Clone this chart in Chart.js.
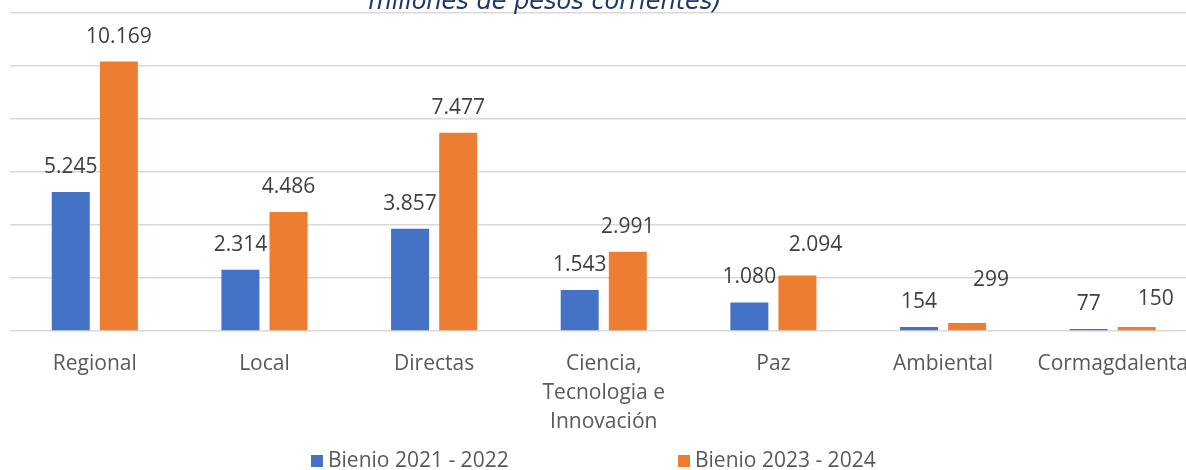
<!DOCTYPE html>
<html>
<head>
<meta charset="utf-8">
<script src="https://cdn.jsdelivr.net/npm/chart.js@4.4.1/dist/chart.umd.min.js"></script>
<style>
  html, body { margin: 0; padding: 0; background: #fff; overflow: hidden; }
  #wrap { width: 1206px; height: 470px; position: relative; }
</style>
</head>
<body>
<div id="wrap"><canvas id="grafico"></canvas></div>
<script>
// Datos
const categorias = ['Regional', 'Local', 'Directas', ['Ciencia,', 'Tecnologia e', 'Innovación'], 'Paz', 'Ambiental', 'Cormagdalenta'];
const bienio2122 = [5245, 2314, 3857, 1543, 1080, 154, 77];
const bienio2324 = [10169, 4486, 7477, 2991, 2094, 299, 150];
const nombresSeries = ['Bienio 2021 - 2022', 'Bienio 2023 - 2024'];
const coloresSeries = ['#4472C4', '#ED7D31'];
const tituloTexto = 'millones de pesos corrientes)';

// ajustes de las etiquetas que Excel movio a mano [dx, dy]
const ajusteEtiquetas = [
    [[0, 0], [0, 0], [0, 0], [0, 0], [0, 0], [0, 0], [0, 0]],
    [[0, 0], [0, 0], [0, 0], [0, 0], [18, -5], [24, -18], [19, -3]]
];

const fuente = '"Open Sans", sans-serif';

function formatoMiles(v) {
    return String(v).replace(/\B(?=(\d{3})+(?!\d))/g, '.');
}

const etiquetasPlugin = {
    id: 'etiquetas',
    afterDatasetsDraw(chart) {
        const ctx = chart.ctx;
        ctx.save();
        ctx.font = '21px ' + fuente;
        ctx.fillStyle = '#404040';
        ctx.textAlign = 'center';
        ctx.textBaseline = 'middle';
        chart.data.datasets.forEach((ds, i) => {
            chart.getDatasetMeta(i).data.forEach((bar, j) => {
                const a = ajusteEtiquetas[i][j];
                ctx.fillText(formatoMiles(ds.data[j]), bar.x + a[0], bar.y - 25 + a[1]);
            });
        });
        ctx.restore();
    }
};

const tituloPlugin = {
    id: 'tituloCortado',
    afterDraw(chart) {
        const ctx = chart.ctx;
        ctx.save();
        ctx.font = 'italic 24px "DejaVu Sans", Verdana, sans-serif';
        ctx.fillStyle = '#1F3864';
        ctx.textAlign = 'center';
        ctx.textBaseline = 'alphabetic';
        ctx.fillText(tituloTexto, 545, 9);
        ctx.restore();
    }
};

const leyendaPlugin = {
    id: 'leyendaAbajo',
    afterDraw(chart) {
        const ctx = chart.ctx;
        const xs = [311, 678];
        ctx.save();
        ctx.font = '21px ' + fuente;
        ctx.textBaseline = 'middle';
        ctx.textAlign = 'left';
        chart.data.datasets.forEach((ds, i) => {
            ctx.fillStyle = ds.backgroundColor;
            ctx.fillRect(xs[i], 455, 12, 12);
            ctx.fillStyle = '#595959';
            ctx.fillText(ds.label, xs[i] + 17, 461);
        });
        ctx.restore();
    }
};

new Chart(document.getElementById('grafico'), {
    type: 'bar',
    data: {
        labels: categorias,
        datasets: [
            { label: nombresSeries[0], data: bienio2122, backgroundColor: coloresSeries[0] },
            { label: nombresSeries[1], data: bienio2324, backgroundColor: coloresSeries[1] }
        ]
    },
    options: {
        responsive: true,
        maintainAspectRatio: false,
        animation: false,
        categoryPercentage: 0.567,
        barPercentage: 0.79,
        layout: { padding: { left: 10, right: 0, top: 13, bottom: 19 } },
        plugins: {
            legend: { display: false },
            title: { display: false },
            tooltip: { enabled: false }
        },
        scales: {
            x: {
                grid: { display: false, drawTicks: false },
                border: { display: false },
                ticks: {
                    color: '#595959',
                    font: { family: fuente, size: 21, lineHeight: 1.4 },
                    padding: 18,
                    maxRotation: 0,
                    autoSkip: false
                },
                afterFit(scale) { scale.height = 120; }
            },
            y: {
                min: 0,
                max: 12000,
                grid: { color: '#D9D9D9', lineWidth: 1.5, drawTicks: false },
                border: { display: false },
                ticks: { display: false, stepSize: 2000 },
                afterFit(scale) { scale.width = 0; }
            }
        }
    },
    plugins: [etiquetasPlugin, tituloPlugin, leyendaPlugin]
});
</script>
</body>
</html>
